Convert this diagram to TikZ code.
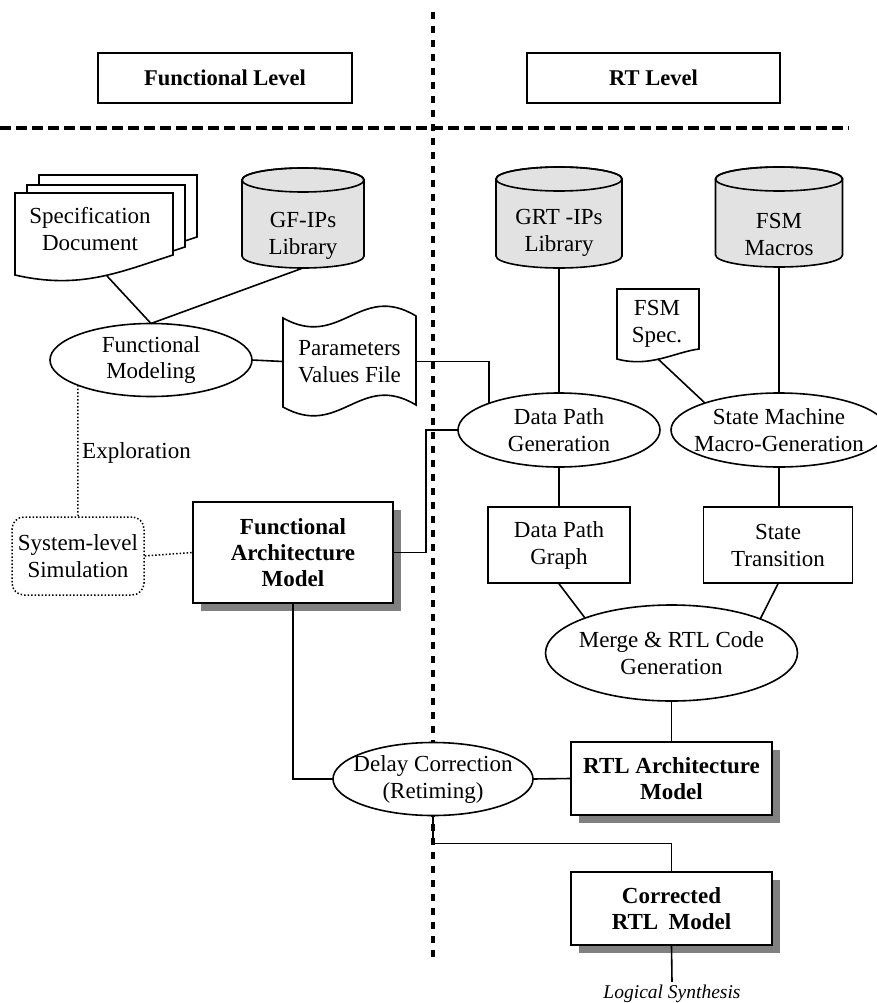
\documentclass[tikz,border=0pt]{standalone}
\usepackage{fontspec}
\setmainfont{Liberation Serif}
\usetikzlibrary{shapes.geometric,shadows,calc}
\definecolor{libgray}{HTML}{E2E2E2}
\definecolor{shadowgray}{HTML}{808080}

\begin{document}
\begin{tikzpicture}[x=1pt,y=1pt,
  txt/.style={font=\fontsize{23}{27}\selectfont, align=center},
  hdr/.style={draw, line width=1.4pt, font=\fontsize{22.5}{26}\selectfont\bfseries, inner sep=0pt},
  box/.style={txt, draw, line width=1.6pt, fill=white, inner sep=0pt},
  bbox/.style={box, font=\fontsize{23}{26}\selectfont\bfseries,
    drop shadow={shadow xshift=8pt, shadow yshift=-8pt, fill=shadowgray, opacity=1}},
  proc/.style={txt, ellipse, draw, line width=1.6pt, fill=white, inner sep=-30pt, outer sep=0pt},
  link/.style={line width=1.6pt},
  dots/.style={line width=1.5pt, dash pattern=on 1.5pt off 2pt},
  lib/.style={draw, line width=1.6pt, fill=libgray},
  sheet/.style={draw, line width=1.6pt, fill=white},
]
\useasboundingbox (0,0) rectangle (877,-1003);

% level separators
\draw[line width=3.3pt, dash pattern=on 11pt off 5pt] (0,-128) -- (849,-128);
\draw[line width=4.5pt, dash pattern=on 7pt off 7pt] (433,-12) -- (433,-958);

% level headers
\node[hdr, minimum width=254, minimum height=50] (fl) at (225,-78) {Functional Level};
\node[hdr, minimum width=253, minimum height=50] (rl) at (653.5,-78) {RT Level};

% specification document (stack of sheets)
\foreach \sx/\sy in {39/175, 27/185, 15/193}{
  \filldraw[sheet, shift={(\sx,-\sy)}] (0,0) -- (158,0) -- (158,-62)
    .. controls (105,-79) and (65,-97) .. (0,-82) -- cycle;
}
\node[txt] (spec) at (90,-229) {Specification\\Document};
\coordinate (specb) at (107,-276);

% GF-IPs library drum
\begin{scope}[shift={(303,-180)}]
  \filldraw[lib] (-61,0) -- (-61,-76) arc[start angle=180, end angle=360, x radius=61pt, y radius=12pt]
    -- (61,0) arc[start angle=0, end angle=180, x radius=61pt, y radius=12pt] -- cycle;
  \draw[line width=1.6pt] (0,0) ellipse[x radius=61pt, y radius=12pt];
\end{scope}
\node[txt] (gf) at (303,-236) {GF-IPs\\Library};
\coordinate (gfb) at (303,-268);

% GRT-IPs library drum
\begin{scope}[shift={(559,-179)}]
  \filldraw[lib] (-63,0) -- (-63,-77) arc[start angle=180, end angle=360, x radius=63pt, y radius=12pt]
    -- (63,0) arc[start angle=0, end angle=180, x radius=63pt, y radius=12pt] -- cycle;
  \draw[line width=1.6pt] (0,0) ellipse[x radius=63pt, y radius=12pt];
\end{scope}
\node[txt] (grt) at (559,-233) {GRT -IPs\\Library};
\coordinate (grtb) at (559,-268);

% FSM macros drum
\begin{scope}[shift={(779,-179)}]
  \filldraw[lib] (-63.5,0) -- (-63.5,-76) arc[start angle=180, end angle=360, x radius=63.5pt, y radius=12pt]
    -- (63.5,0) arc[start angle=0, end angle=180, x radius=63.5pt, y radius=12pt] -- cycle;
  \draw[line width=1.6pt] (0,0) ellipse[x radius=63.5pt, y radius=12pt];
\end{scope}
\node[txt] (fsmm) at (779,-234) {FSM\\Macros};
\coordinate (fsmmb) at (779,-267);

% FSM specification sheet
\filldraw[sheet] (617,-289) -- (699,-289) -- (699,-349)
  .. controls (675,-352) and (650,-368) .. (617,-359) -- cycle;
\node[txt] (fsms) at (657,-324) {FSM\\Spec.};
\coordinate (fsmsb) at (658,-359);

% parameters values file (tape)
\filldraw[sheet] (283,-318) .. controls (340,-350) and (360,-282) .. (416,-316)
  -- (416,-405) .. controls (360,-371) and (340,-439) .. (283,-407) -- cycle;
\node[txt, minimum width=133, minimum height=89, inner sep=0pt] (pvf) at (349.5,-361.5) {Parameters\\Values File};

% processes
\node[proc, minimum width=202, minimum height=73] (fm) at (151,-360) {Functional\\Modeling};
\node[proc, minimum width=202, minimum height=74] (dpg) at (559,-430) {Data Path\\Generation};
\node[proc, minimum width=216, minimum height=74] (smmg) at (779,-430) {State Machine\\Macro-Generation};
\node[proc, minimum width=252, minimum height=96] (merge) at (671.5,-653) {Merge \& RTL Code\\Generation};
\node[proc, minimum width=200, minimum height=73] (delay) at (433,-779) {Delay Correction\\(Retiming)};

% models and intermediate results
\node[bbox, minimum width=200, minimum height=101] (fam) at (293,-552.5) {Functional\\Architecture\\Model};
\node[box, minimum width=142, minimum height=76] (dpgr) at (559,-545) {Data Path\\Graph};
\node[box, minimum width=149, minimum height=76] (st) at (778,-545) {State\\Transition};
\node[bbox, minimum width=201, minimum height=73] (rtl) at (671.5,-778.5) {RTL Architecture\\Model};
\node[bbox, minimum width=201, minimum height=73] (corr) at (671.5,-908.5) {Corrected\\RTL\hspace{0.45em}Model};

% exploration loop
\node[txt, draw, line width=1.5pt, dash pattern=on 1.5pt off 2pt, rounded corners=12pt,
  minimum width=132, minimum height=78, inner sep=0pt] (sls) at (78,-556) {System-level\\Simulation};
\node[txt, anchor=west, inner sep=0pt] (expl) at (82,-453) {Exploration};

\node[font=\fontsize{19.5}{22}\selectfont\itshape, inner sep=3pt] (ls) at (672,-994) {Logical Synthesis};

% connectors
\draw[link] (specb) -- (fm.north);
\draw[link] (gfb) -- (fm.north);
\draw[link] (fm.east) -- (pvf.west);
\draw[link] (pvf.east) -| (dpg.159.7);
\draw[link] (fam.east) -- ++(32,0) |- (dpg.west);
\draw[link] (grtb) -- (dpg.north);
\draw[link] (fsmmb) -- (smmg.north);
\draw[link] (fsmsb) -- (smmg.160);
\draw[link] (dpg.south) -- (dpgr.north);
\draw[link] (smmg.south) -- (smmg.south |- st.north);
\draw[link] (dpgr.south) -- (merge.158);
\draw[link] (st.south) -- (merge.21);
\draw[link] (merge.south) -- (rtl.north);
\draw[link] (fam.south) |- (delay.west);
\draw[link] (delay.east) -- (rtl.west);
\draw[link] (delay.south) -- ++(0,-28) -| (corr.north);
\draw[link] (corr.south) -- (ls.north);
\draw[dots] (fm.199.3) -- (sls.north);
\draw[dots] (sls.east) -- (fam.west);
\end{tikzpicture}
\end{document}
